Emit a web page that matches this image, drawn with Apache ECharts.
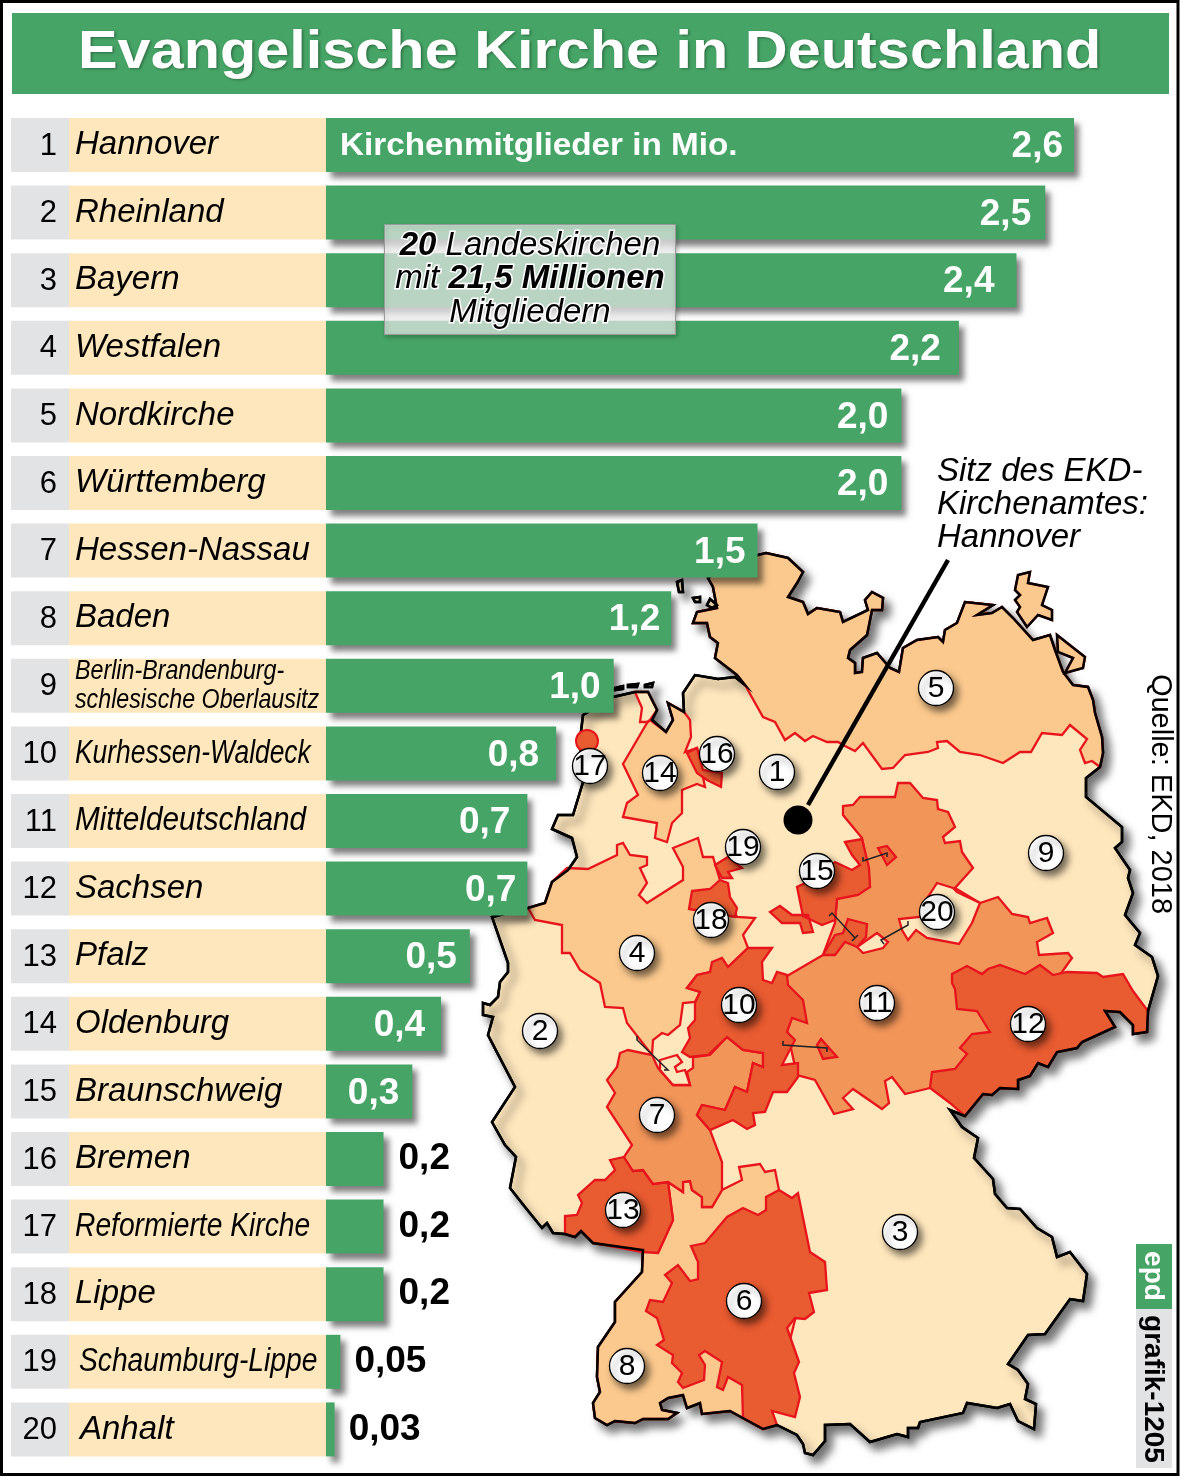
<!DOCTYPE html>
<html><head><meta charset="utf-8">
<style>html,body{margin:0;padding:0;background:#fff}#c{width:1181px;height:1478px}</style>
<script src="https://cdn.jsdelivr.net/npm/echarts@6/dist/echarts.min.js"></script>
</head><body><div id="c"></div>
<script>
const categories=['Hannover','Rheinland','Bayern','Westfalen','Nordkirche','Württemberg','Hessen-Nassau','Baden','Berlin-Brandenburg-\nschlesische Oberlausitz','Kurhessen-Waldeck','Mitteldeutschland','Sachsen','Pfalz','Oldenburg','Braunschweig','Bremen','Reformierte Kirche','Lippe','Schaumburg-Lippe','Anhalt'];
const values=[2.6,2.5,2.4,2.2,2.0,2.0,1.5,1.2,1.0,0.8,0.7,0.7,0.5,0.4,0.3,0.2,0.2,0.2,0.05,0.03];
const valueLabels=['2,6','2,5','2,4','2,2','2,0','2,0','1,5','1,2','1,0','0,8','0,7','0,7','0,5','0,4','0,3','0,2','0,2','0,2','0,05','0,03'];
const labelInset=[11,14,22,18,13,13,12,11,13,17,17,11,13,16,13,15,15,15,14,14];
const nameStretch=[1,1,1,1,1,1,1,1,.83,.80,.90,1,1,1,1,1,.855,1,.855,1];
const nameIndent=[0,0,0,0,0,0,0,0,0,0,0,0,0,0,0,0,0,0,4,5];

const GREEN='#46a566',GREY='#e2e3e5',CREAM='#fee7bd',LIGHT='#fbc98e',MID='#f29559',DARK='#e95b31',RED='#e8141c';

/* ---- map outline of Germany (pixel-space geometry for the geo component) ---- */
const coastNorth=[[745,685],[737,675],[715,658],[718,643],[710,637],[707,623],[693,623],[697,612],[717,608],[713,587],[708,578],[735,560],[758,555],[766,553],[788,558],[803,572],[797,583],[788,597],[803,602],[808,614],[817,608],[840,612],[843,622],[868,610],[865,600],[872,592],[883,598],[882,610],[872,610],[867,635],[850,650],[848,658],[855,663],[855,673],[862,672],[863,658],[877,653],[890,668],[899,672],[903,648],[917,640],[938,637],[943,642],[945,630],[957,623],[965,602],[993,605],[977,615],[992,613],[1002,607],[1013,618],[1033,640],[1050,635],[1055,650],[1063,672],[1073,685],[1088,687],[1093,700],[1095,713],[1102,737],[1103,753],[1100,767]];
const coastEast=[[1086,778],[1086,797],[1122,827],[1122,842],[1115,848],[1130,870],[1128,878],[1133,893],[1125,915],[1140,933],[1135,945],[1152,957],[1158,976],[1148,1011]];
const coastSaxony=[[1147,1032],[1133,1034],[1133,1025],[1120,1012],[1105,1011],[1115,1027],[1082,1042],[1077,1048],[1057,1052],[1048,1067],[1038,1063],[1030,1076],[1018,1080],[1018,1089],[1000,1088],[992,1095],[983,1094],[965,1116]];
const coastSouth=[[950,1110],[962,1127],[978,1138],[974,1158],[993,1179],[995,1194],[1007,1208],[1020,1209],[1037,1228],[1052,1237],[1057,1257],[1070,1252],[1087,1274],[1083,1301],[1070,1299],[1045,1334],[1028,1335],[1008,1364],[1018,1370],[1028,1384],[1025,1399],[1036,1404],[1034,1429],[1018,1421],[1010,1404],[997,1408],[967,1403],[963,1413],[920,1422],[918,1428],[908,1428],[908,1437],[897,1434],[870,1442],[850,1424],[825,1425],[825,1441],[813,1455],[805,1453],[803,1444],[797,1435],[777,1425],[763,1429]];
const coastBaden=[[730,1411],[702,1414],[700,1403],[687,1408],[683,1395],[668,1398],[660,1403],[662,1410],[677,1413],[668,1419],[643,1419],[635,1423],[615,1421],[607,1425],[595,1418],[593,1403],[600,1392],[597,1377],[598,1347],[615,1322],[615,1302],[642,1272],[643,1250]];
const coastPfalz=[[593,1243],[581,1231],[575,1237],[565,1234]];
const coastWest=[[553,1233],[547,1223],[542,1228],[525,1207],[510,1188],[516,1157],[505,1145],[492,1122],[515,1087],[488,1035],[493,1017],[483,1015],[483,1003],[490,1005],[498,997],[500,982],[508,972],[508,963],[492,917],[528,908],[545,903],[552,882],[568,870],[577,857],[572,838],[552,829],[558,815],[573,815],[583,782],[580,740],[583,715],[613,697],[635,692],[648,692],[657,710],[652,720],[666,732],[673,720],[668,703],[684,712],[683,693],[695,675],[718,679],[735,677]];
const coastAll=[...coastNorth,...coastEast,...coastSaxony,...coastSouth,...coastBaden,...coastPfalz,...coastWest];
const islandsWest=[[[677,582],[682,580],[683,592],[679,592]],[[693,598],[700,597],[700,602],[695,602]],[[710,599],[717,605],[712,608],[707,605]],[[615,688],[623,686],[623,689],[615,690]],[[628,685],[638,684],[637,687],[628,687]],[[645,685],[653,683],[652,687],[645,687]]];
const islandsEast=[[[1018,575],[1030,572],[1028,583],[1048,587],[1042,605],[1052,610],[1052,620],[1038,615],[1027,627],[1017,612],[1020,607],[1015,600],[1020,595],[1015,590]],[[1057,635],[1085,657],[1083,668],[1065,673],[1073,658],[1058,652]]];

/* ---- church regions ---- */
const border5=[[1092,761],[1085,763],[1080,750],[1087,739],[1070,725],[1062,735],[1042,733],[1031,752],[1020,752],[1003,763],[980,755],[960,752],[947,741],[937,742],[938,748],[928,752],[905,755],[893,768],[882,769],[863,743],[855,751],[845,746],[838,742],[827,742],[813,736],[805,741],[795,733],[785,740],[775,722],[763,717]];
const regionPolys=[
 {name:'8',color:LIGHT,poly:[[[668,1182],[683,1192],[683,1182],[690,1181],[692,1190],[702,1197],[702,1207],[712,1207],[722,1190],[742,1180],[739,1167],[760,1164],[765,1172],[775,1170],[779,1190],[800,1300],[770,1420],[763,1429],...coastBaden,[658,1253],[673,1220]]]},
 {name:'6',color:DARK,poly:[[[779,1190],[792,1198],[798,1193],[810,1252],[825,1262],[827,1290],[809,1293],[814,1312],[805,1319],[795,1318],[787,1328],[799,1362],[794,1373],[800,1397],[795,1417],[772,1411],[777,1425],[763,1429],[743,1418],[742,1385],[728,1377],[723,1390],[717,1387],[722,1362],[705,1351],[699,1355],[705,1365],[704,1380],[683,1388],[678,1382],[682,1373],[672,1363],[673,1355],[657,1345],[664,1340],[657,1318],[646,1311],[650,1300],[663,1302],[672,1283],[665,1275],[678,1265],[690,1281],[698,1279],[698,1262],[691,1246],[705,1243],[727,1217],[743,1208],[758,1215],[766,1210],[766,1197]]]},
 {name:'13',color:DARK,poly:[[[610,1160],[624,1157],[633,1171],[643,1170],[653,1184],[668,1182],[673,1220],[658,1253],[643,1252],...coastPfalz,[565,1216],[577,1215],[582,1203],[578,1195],[595,1180],[605,1180],[615,1170]]]},
 {name:'4',color:LIGHT,poly:[[[528,908],[535,920],[562,925],[562,953],[570,953],[580,970],[600,983],[605,1007],[623,1008],[627,1023],[652,1055],[653,1040],[662,1033],[668,1035],[680,1025],[683,1003],[695,1002],[700,992],[687,988],[697,975],[710,972],[728,967],[748,948],[743,935],[755,918],[737,917],[720,880],[713,857],[703,857],[698,838],[673,848],[683,867],[683,880],[647,903],[639,895],[647,883],[640,868],[647,865],[647,857],[630,855],[623,843],[617,845],[617,855],[588,869],[567,868],[552,882],[545,903]]]},
 {name:'14',color:LIGHT,poly:[[[650,720],[666,732],[673,720],[668,703],[684,712],[690,720],[691,737],[685,752],[697,748],[705,787],[697,784],[682,790],[682,813],[672,823],[667,842],[655,838],[657,823],[623,817],[627,803],[638,795],[623,764],[647,723]]]},
 {name:'Spiekeroog',color:CREAM,poly:[[[635,692],[648,692],[657,710],[650,720],[647,722],[640,722],[642,708]]]},
 {name:'16',color:DARK,poly:[[[687,753],[697,748],[703,770],[722,773],[721,787],[707,780],[697,773]]]},
 {name:'7',color:MID,poly:[[[620,1053],[628,1050],[652,1055],[658,1068],[673,1085],[690,1085],[687,1072],[693,1068],[693,1057],[710,1055],[727,1037],[743,1050],[763,1053],[763,1067],[753,1063],[747,1092],[735,1087],[725,1110],[702,1105],[697,1115],[710,1130],[722,1162],[722,1190],[712,1207],[702,1207],[702,1197],[692,1190],[690,1181],[683,1182],[683,1192],[668,1182],[653,1184],[643,1170],[633,1171],[624,1157],[632,1145],[607,1107],[615,1093],[607,1080],[617,1067]]]},
 {name:'Notch',color:CREAM,poly:[[[660,1060],[677,1055],[682,1062],[675,1067],[677,1072],[685,1070],[690,1085],[673,1085],[660,1070]]]},
 {name:'11',color:MID,poly:[[[898,783],[910,783],[923,798],[937,800],[938,809],[948,812],[955,827],[943,837],[945,843],[960,841],[962,852],[973,868],[955,888],[980,903],[998,897],[1012,914],[1028,917],[1030,923],[1047,918],[1053,933],[1037,942],[1039,955],[1068,953],[1072,958],[1062,972],[1000,1040],[930,1088],[905,1094],[892,1077],[885,1081],[889,1103],[882,1109],[853,1089],[843,1098],[853,1109],[834,1114],[815,1080],[797,1075],[780,1000],[787,976],[823,955],[835,923],[837,899],[870,887],[868,868],[862,838],[843,815],[843,806],[853,805],[860,797],[895,797]]]},
 {name:'20',color:CREAM,poly:[[[937,883],[953,888],[957,892],[980,903],[972,923],[959,944],[927,938],[916,930],[908,940],[902,930],[899,919],[920,917],[928,897]],[[857,947],[877,933],[888,942],[883,948],[863,953]]]},
 {name:'10',color:DARK,poly:[[[710,972],[712,962],[722,958],[728,967],[748,948],[772,948],[762,962],[763,980],[772,983],[777,972],[787,975],[788,985],[803,1000],[807,1023],[792,1018],[787,1032],[795,1040],[782,1065],[798,1063],[798,1077],[787,1092],[773,1092],[765,1112],[753,1113],[755,1125],[747,1129],[733,1120],[710,1130],[697,1115],[702,1105],[725,1110],[735,1087],[747,1092],[753,1063],[763,1067],[763,1053],[743,1050],[727,1037],[708,1055],[690,1057],[682,1052],[690,1038],[688,1028],[695,1020],[695,1003],[700,992],[687,988],[697,975]]]},
 {name:'11b',color:DARK,poly:[[[817,1045],[821,1039],[837,1057],[823,1059]]]},
 {name:'12',color:DARK,poly:[[[952,974],[967,966],[982,974],[988,969],[1000,965],[1025,974],[1040,965],[1053,975],[1067,972],[1097,973],[1103,977],[1123,974],[1133,991],[1148,1011],...coastSaxony,[950,1103],[930,1088],[932,1072],[955,1069],[967,1054],[960,1048],[972,1034],[990,1032],[977,1011],[957,1009],[955,989],[952,983]]]},
 {name:'15',color:DARK,poly:[[[845,842],[862,839],[869,868],[870,887],[858,895],[837,899],[835,920],[822,925],[803,916],[797,887],[818,877],[835,862],[852,870],[860,865],[852,855]],[[770,912],[780,906],[792,915],[808,915],[813,932],[803,933],[800,923],[782,923]],[[878,848],[887,846],[896,857],[887,865]],[[848,919],[867,924],[866,937],[857,947],[845,942],[835,955],[823,955],[835,935],[843,933]]]},
 {name:'18',color:DARK,poly:[[[692,891],[710,889],[720,880],[728,883],[730,897],[737,908],[735,917],[713,913],[689,909]]]},
 {name:'19',color:DARK,poly:[[[715,865],[728,857],[742,868],[728,872],[732,878],[722,878]]]},
 {name:'5',color:LIGHT,poly:[[...coastNorth,...border5],...islandsEast]}
];
const circleNumbers=['1','2','3','4','5','6','7','8','9','10','11','12','13','14','15','16','17','18','19','20'];
const circleSpots=[[777,772],[540,1031],[900,1232],[637,953],[936,688],[744,1301],[657,1115],[627,1366],[1046,853],[739,1005],[877,1003],[1028,1024],[623,1210],[660,773],[817,871],[717,754],[590,766],[711,920],[743,847],[937,912]];
const leaderLines=[[[829,916],[832,913],[855,938],[852,941],[858,935]],[[908,921],[908,925],[881,940],[884,944]],[[863,857],[863,861],[887,853],[887,857]],[[637,1036],[637,1040],[668,1070],[664,1070]],[[783,1041],[783,1045],[827,1048],[827,1052]]];
const feature=(name,polys)=>({type:'Feature',properties:{name},geometry:{type:'MultiPolygon',coordinates:polys.map(p=>[p])}});
const closed=p=>[...p,p[0]];
const geoJson={type:'FeatureCollection',features:[
 feature('Deutschland',[closed(coastAll),...islandsWest.map(closed)]),
 ...regionPolys.map(r=>feature(r.name,r.poly.map(closed))),
 feature('Kueste',[closed(coastAll),...islandsWest.map(closed),...islandsEast.map(closed)])
]};
echarts.registerMap('de',geoJson);
const geoRegions=[
 {name:'Deutschland',itemStyle:{areaColor:CREAM,borderColor:'#000',borderWidth:2.5,shadowColor:'rgba(0,0,0,.55)',shadowBlur:9,shadowOffsetX:6,shadowOffsetY:7}},
 ...regionPolys.map(r=>({name:r.name,itemStyle:{areaColor:r.color,borderColor:RED,borderWidth:2.3}})),
 {name:'Kueste',itemStyle:{areaColor:'rgba(0,0,0,0)',borderColor:'#000',borderWidth:2.5}}
];

const chart=echarts.init(document.getElementById('c'),null,{renderer:'canvas',width:1181,height:1478});
const SANS='"Liberation Sans",Arial,sans-serif';
const barData=values.map((v,i)=>({value:v,label:v>=0.3
 ?{show:true,position:'insideRight',distance:labelInset[i],color:'#fff',offset:[0,2],formatter:valueLabels[i]}
 :{show:true,position:'right',distance:labelInset[i],color:'#000',offset:[0,0],formatter:valueLabels[i]}}));

chart.setOption({
 animation:false,
 backgroundColor:'#fff',
 grid:{left:326,width:748,top:111.2,height:1352,containLabel:false},
 xAxis:{type:'value',min:0,max:2.6,show:false},
 yAxis:{type:'category',data:categories,inverse:true,show:false},
 geo:{map:'de',silent:true,roam:false,z:0,left:0,top:0,width:1181,height:1478,aspectScale:1,
  boundingCoords:[[0,0],[1181,1478]],
  projection:{project:p=>[p[0],p[1]],unproject:p=>[p[0],p[1]]},
  label:{show:false},itemStyle:{areaColor:CREAM,borderColor:RED,borderWidth:2},regions:geoRegions},
 series:[
  {type:'custom',coordinateSystem:'cartesian2d',silent:true,z:1,encode:{x:0,y:1},
   data:categories.map((c,i)=>[0,i]),
   renderItem:(params,api)=>{
    const i=api.value(1),c=api.coord([0,i]),cy=c[1],left=c[0];
    const kids=[
     {type:'rect',shape:{x:left-315,y:cy-27,width:58,height:54},style:{fill:GREY}},
     {type:'rect',shape:{x:left-257,y:cy-27,width:257,height:54},style:{fill:CREAM}},
     {type:'text',style:{x:left-269,y:cy+1,text:String(i+1),font:'31px '+SANS,fill:'#000',textAlign:'right',textVerticalAlign:'middle'}}
    ];
    const two=categories[i].includes('\n');
    kids.push({type:'text',x:left-251+nameIndent[i],y:cy,scaleX:nameStretch[i],
      style:{x:0,y:0,text:categories[i],font:'italic '+(two?28:33)+'px '+SANS,lineHeight:29,fill:'#000',textAlign:'left',textVerticalAlign:'middle'}});
    return {type:'group',children:kids};
   }},
  {type:'bar',data:barData,barWidth:54,z:3,silent:true,
   itemStyle:{color:GREEN,shadowColor:'rgba(0,0,0,.5)',shadowBlur:6,shadowOffsetX:5,shadowOffsetY:6},
   label:{fontFamily:SANS,fontWeight:'bold',fontSize:37}},
  {type:'scatter',coordinateSystem:'geo',silent:true,z:2,symbol:'circle',symbolSize:22,data:[[587,741]],
   itemStyle:{color:DARK,borderColor:RED,borderWidth:2,opacity:1}},
  {type:'lines',coordinateSystem:'geo',polyline:true,silent:true,z:2,data:leaderLines.map(l=>({coords:l})),
   lineStyle:{color:'#222',width:1.5,opacity:1}},
  {type:'lines',coordinateSystem:'geo',silent:true,z:4,data:[{coords:[[948,560],[808,805]]}],
   lineStyle:{color:'#000',width:4.5,opacity:1,curveness:0}},
  {type:'scatter',coordinateSystem:'geo',silent:true,z:4,symbol:'circle',symbolSize:29,data:[[798,820]],itemStyle:{color:'#000',opacity:1}},
  {type:'scatter',coordinateSystem:'geo',silent:true,z:4,symbol:'circle',symbolSize:35,
   data:circleSpots.map((p,i)=>({value:p,label:{formatter:circleNumbers[i]}})),
   itemStyle:{color:'#fff',opacity:1,borderColor:'#000',borderWidth:1.3,shadowColor:'rgba(0,0,0,.55)',shadowBlur:7,shadowOffsetX:4,shadowOffsetY:5},
   label:{show:true,position:'inside',color:'#000',opacity:1,offset:[0,1],fontFamily:SANS,fontSize:30}}
 ],
 graphic:{elements:[
  {type:'rect',z:1,shape:{x:12,y:13,width:1157,height:81},style:{fill:GREEN}},
  {type:'text',z:2,x:78,y:53,scaleX:1.1,style:{x:0,y:0,text:'Evangelische Kirche in Deutschland',font:'bold 54px '+SANS,fill:'#fff',textAlign:'left',textVerticalAlign:'middle',textShadowColor:'rgba(0,0,0,.35)',textShadowBlur:3,textShadowOffsetX:1.5,textShadowOffsetY:1.5}},
  {type:'text',z:20,x:340,y:146,scaleX:1.04,style:{x:0,y:0,text:'Kirchenmitglieder in Mio.',font:'bold 32px '+SANS,fill:'#fff',textAlign:'left',textVerticalAlign:'middle'}},
  {type:'rect',z:20,shape:{x:384.5,y:224.5,width:291,height:110},style:{fill:'rgba(255,255,255,.65)',stroke:'#9a9a9a',lineWidth:1,shadowColor:'rgba(0,0,0,.3)',shadowBlur:4,shadowOffsetX:1,shadowOffsetY:2}},
  {type:'text',z:21,x:530,y:279,style:{x:0,y:0,
    text:'{b|20 }{i|Landeskirchen}\n{i|mit }{b|21,5 Millionen}\n{i|Mitgliedern}',textAlign:'center',textVerticalAlign:'middle',
    rich:{b:{font:'italic bold 33px '+SANS,fill:'#000',stroke:'#fff',lineWidth:3,lineHeight:33.5},i:{font:'italic 33px '+SANS,fill:'#000',stroke:'#fff',lineWidth:3,lineHeight:33.5}}}},
  {type:'text',z:20,x:937,y:505,style:{x:0,y:0,text:'Sitz des EKD-\nKirchenamtes:\nHannover',font:'italic 33px '+SANS,lineHeight:33,fill:'#000',textAlign:'left',textVerticalAlign:'middle'}},
  {type:'text',z:20,x:1160,y:794,rotation:-Math.PI/2,style:{x:0,y:0,text:'Quelle: EKD, 2018',font:'29px '+SANS,fill:'#000',textAlign:'center',textVerticalAlign:'middle'}},
  {type:'rect',z:20,shape:{x:1136,y:1244,width:36,height:65},style:{fill:GREEN}},
  {type:'rect',z:20,shape:{x:1136,y:1309,width:36,height:159},style:{fill:GREY}},
  {type:'text',z:21,x:1153,y:1276,rotation:-Math.PI/2,style:{x:0,y:0,text:'epd',font:'bold 28px '+SANS,fill:'#fff',textAlign:'center',textVerticalAlign:'middle'}},
  {type:'text',z:21,x:1153,y:1389,rotation:-Math.PI/2,style:{x:0,y:0,text:'grafik-1205',font:'bold 28px '+SANS,fill:'#000',textAlign:'center',textVerticalAlign:'middle'}},
  {type:'rect',z:30,shape:{x:1.5,y:1.5,width:1176.5,height:1473},style:{fill:'none',stroke:'#000',lineWidth:3}}
 ]}
});
</script></body></html>
